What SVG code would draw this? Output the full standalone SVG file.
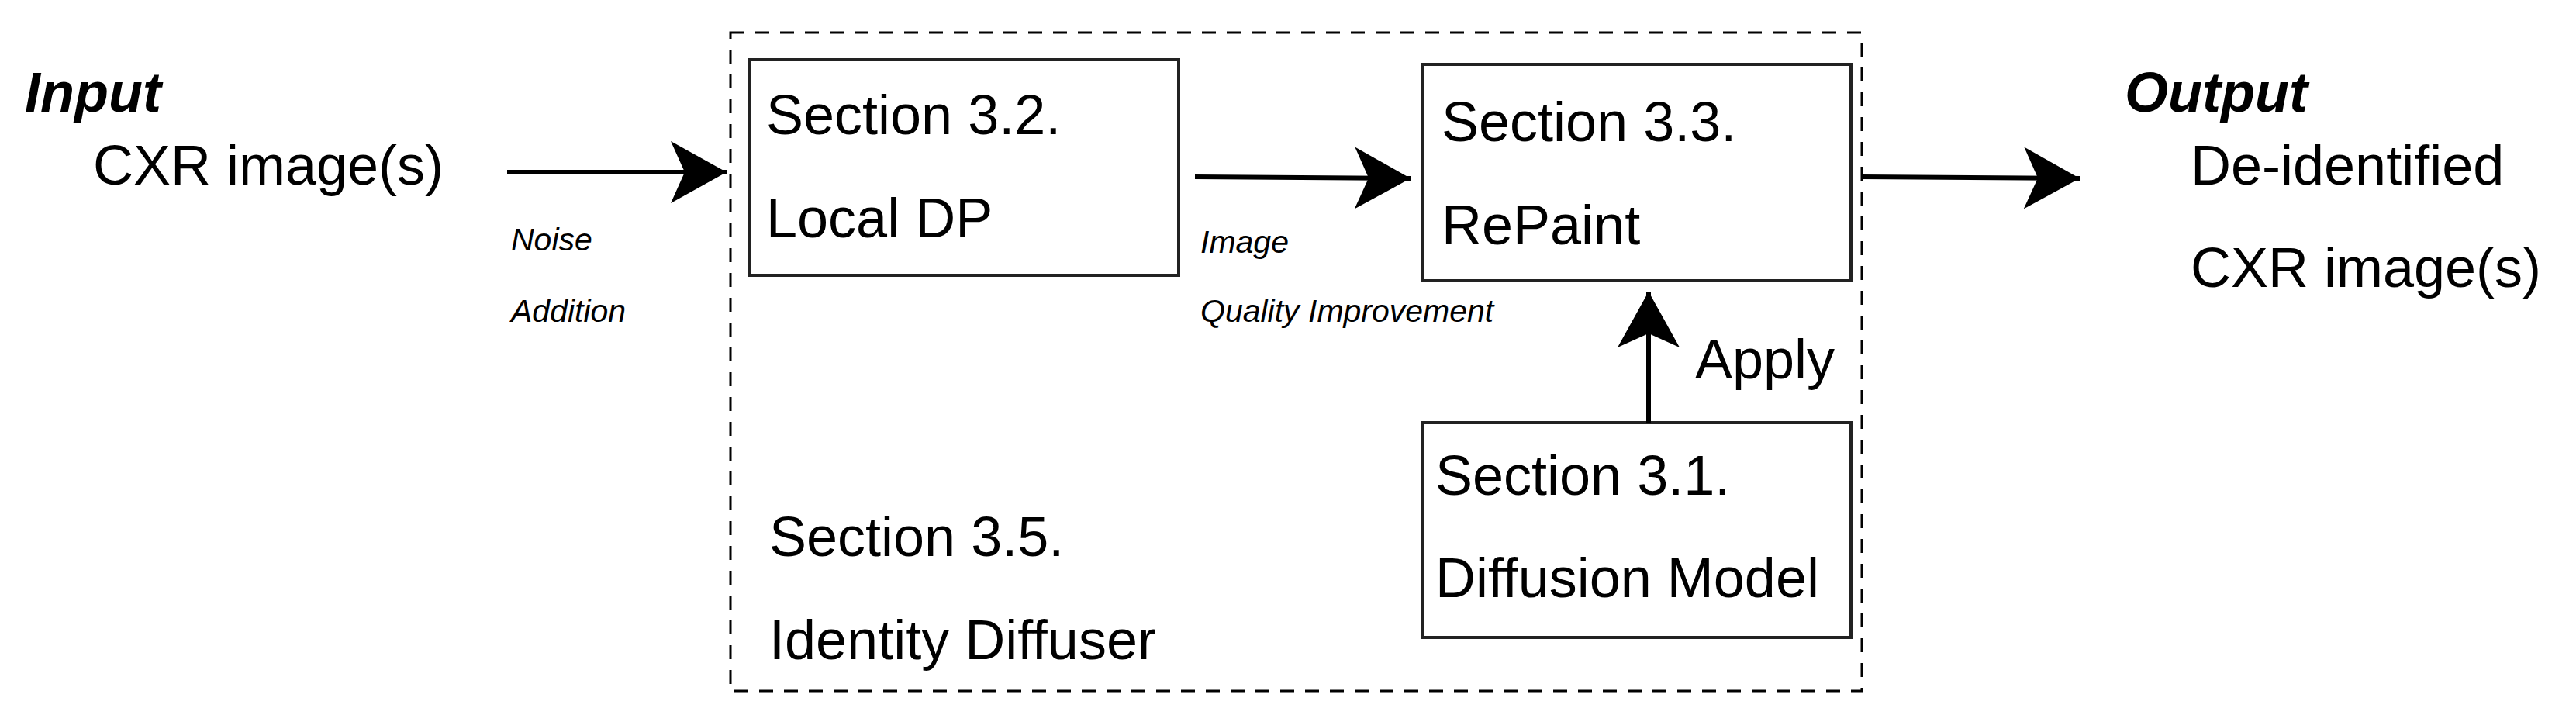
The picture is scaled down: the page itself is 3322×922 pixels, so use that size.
<svg xmlns="http://www.w3.org/2000/svg" width="3322" height="922" viewBox="0 0 3322 922">
<style>
text{font-family:"Liberation Sans",Arial,sans-serif;fill:#000}
.t{font-size:72px}
.s{font-size:41px;font-style:italic}
.h{font-size:72px;font-weight:bold;font-style:italic}
.box{fill:#fff;stroke:#222;stroke-width:4}
.ln{stroke:#000;stroke-width:6;fill:none}
</style>
<defs>
<marker id="ah" markerUnits="userSpaceOnUse" markerWidth="80" markerHeight="90" refX="72" refY="40" orient="auto">
<path d="M0,0 L72,40 L0,80 L18,40 Z" fill="#000"/>
</marker>
</defs>
<g id="container">
<rect x="942" y="42" width="1459" height="849" fill="none" stroke="#000" stroke-width="3" stroke-dasharray="18 14"/>
<text class="t" x="992" y="717">Section 3.5.</text>
<text class="t" x="992" y="850">Identity Diffuser</text>
</g>
<g id="input">
<text class="h" x="32" y="144">Input</text>
<text class="t" x="120" y="238">CXR image(s)</text>
</g>
<g id="localdp">
<rect class="box" x="967" y="77" width="553" height="278"/>
<text class="t" x="988" y="173">Section 3.2.</text>
<text class="t" x="988" y="306">Local DP</text>
</g>
<g id="repaint">
<rect class="box" x="1835" y="83" width="552" height="279"/>
<text class="t" x="1859" y="182">Section 3.3.</text>
<text class="t" x="1859" y="315">RePaint</text>
</g>
<g id="diffusion">
<rect class="box" x="1835" y="545" width="552" height="277"/>
<text class="t" x="1851" y="638">Section 3.1.</text>
<text class="t" x="1851" y="770">Diffusion Model</text>
</g>
<g id="output">
<text class="h" x="2740" y="144">Output</text>
<text class="t" x="2825" y="238">De-identified</text>
<text class="t" x="2825" y="370">CXR image(s)</text>
</g>
<g id="connectors">
<line class="ln" x1="654" y1="222" x2="937" y2="222" marker-end="url(#ah)"/>
<line class="ln" x1="1541" y1="228" x2="1819" y2="230" marker-end="url(#ah)"/>
<line class="ln" x1="2401" y1="228" x2="2682" y2="230" marker-end="url(#ah)"/>
<line class="ln" x1="2126" y1="545" x2="2126" y2="376" marker-end="url(#ah)"/>
<text class="s" x="659" y="323">Noise</text>
<text class="s" x="659" y="415">Addition</text>
<text class="s" x="1548" y="326">Image</text>
<text class="s" x="1548" y="415">Quality Improvement</text>
<text class="t" x="2186" y="488">Apply</text>
</g>
</svg>
